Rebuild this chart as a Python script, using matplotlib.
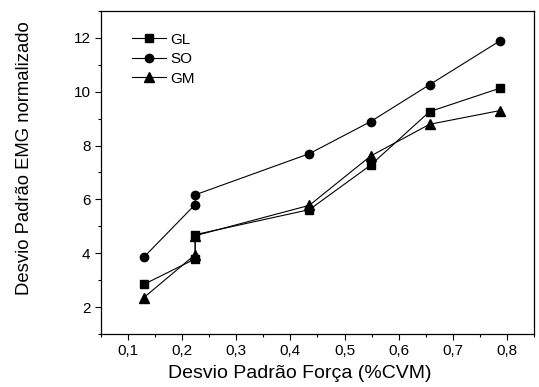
import numpy as np
import matplotlib.pyplot as plt
from matplotlib.ticker import MultipleLocator, FuncFormatter

plt.rcParams['font.family'] = ['Liberation Sans', 'DejaVu Sans']

# data
x_gl = [0.129, 0.224, 0.224, 0.435, 0.548, 0.657, 0.787]
y_gl = [2.84, 3.79, 4.69, 5.62, 7.27, 9.26, 10.13]

x_so = [0.129, 0.224, 0.224, 0.435, 0.548, 0.657, 0.787]
y_so = [3.85, 5.81, 6.17, 7.70, 8.89, 10.26, 11.89]

x_gm = [0.129, 0.224, 0.224, 0.435, 0.548, 0.657, 0.787]
y_gm = [2.35, 3.95, 4.65, 5.78, 7.61, 8.79, 9.30]

fig = plt.figure(figsize=(5.39, 3.87), dpi=100)
ax = fig.add_axes([0.1874, 0.137, 0.8033, 0.8346])

ax.plot(x_gl, y_gl, 'k-', marker='s', ms=6, lw=0.8, label='GL')
ax.plot(x_so, y_so, 'k-', marker='o', ms=6, lw=0.8, label='SO')
ax.plot(x_gm, y_gm, 'k-', marker='^', ms=6.5, lw=0.8, label='GM')

ax.set_xlim(0.05, 0.85)
ax.set_ylim(1, 13)
ax.xaxis.set_major_locator(MultipleLocator(0.1))
ax.xaxis.set_minor_locator(MultipleLocator(0.05))
ax.yaxis.set_major_locator(MultipleLocator(2))
ax.yaxis.set_minor_locator(MultipleLocator(1))
ax.xaxis.set_major_formatter(FuncFormatter(lambda v, p: ('%.1f' % v).replace('.', ',')))
ax.tick_params(which='major', direction='out', length=4, width=0.8, labelsize=11)
ax.tick_params(which='minor', direction='out', length=2.5, width=0.8)
for s in ax.spines.values():
    s.set_linewidth(0.9)

ax.set_xlabel('Desvio Padrão Força (%CVM)', fontsize=14)
ax.set_ylabel('Desvio Padrão EMG normalizado', fontsize=13.3)
ax.xaxis.set_label_coords(0.46, -0.095)
ax.yaxis.set_label_coords(-0.157, 0.545)

ax.legend(loc='upper left', frameon=False, fontsize=11, handlelength=2.2,
          handletextpad=0.3, labelspacing=0.35, bbox_to_anchor=(0.04, 0.975))

fig.savefig('out.png', dpi=100)
